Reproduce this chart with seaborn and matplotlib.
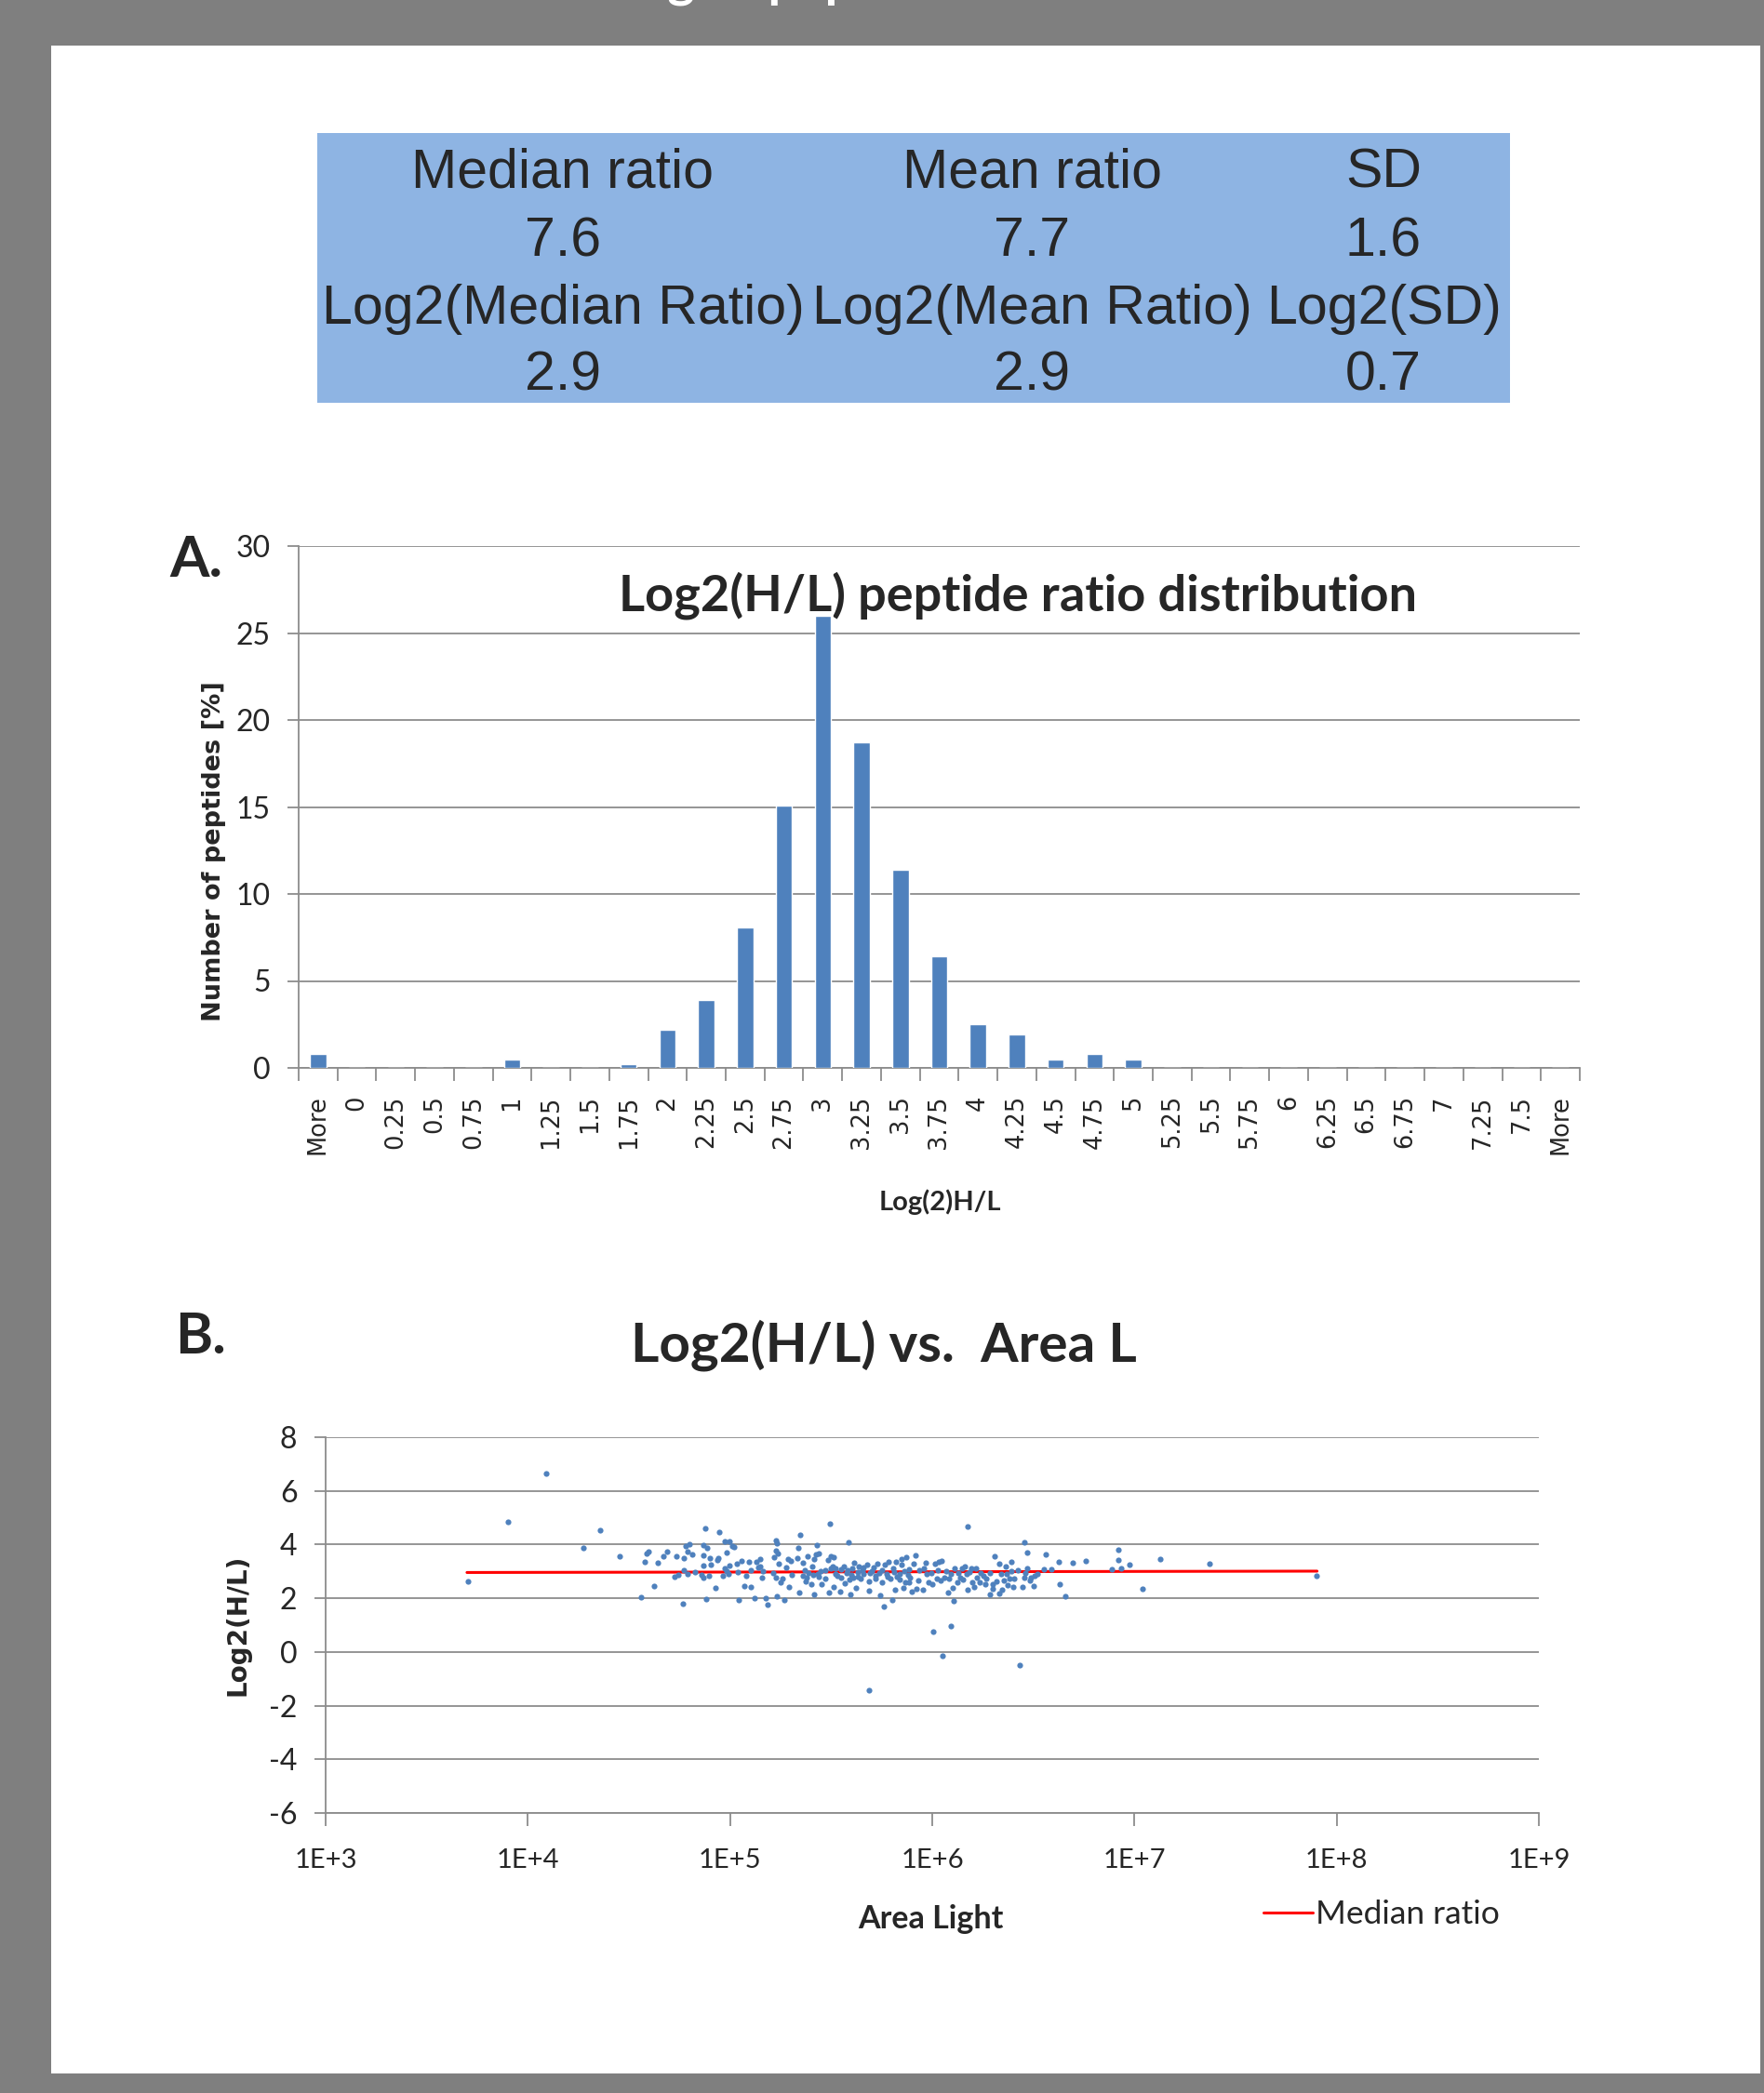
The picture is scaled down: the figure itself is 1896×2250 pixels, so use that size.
import numpy as np
import pandas as pd
import seaborn as sns
import matplotlib.pyplot as plt
from matplotlib.patches import Rectangle
from matplotlib.ticker import NullLocator

# Step 1: Data

# summary table
table_rows = [
    ["Median ratio", "Mean ratio", "SD"],
    ["7.6", "7.7", "1.6"],
    ["Log2(Median Ratio)", "Log2(Mean Ratio)", "Log2(SD)"],
    ["2.9", "2.9", "0.7"],
]

# A. histogram of log2(H/L)
bin_labels = ["More", "0", "0.25", "0.5", "0.75", "1", "1.25", "1.5", "1.75",
              "2", "2.25", "2.5", "2.75", "3", "3.25", "3.5", "3.75", "4",
              "4.25", "4.5", "4.75", "5", "5.25", "5.5", "5.75", "6", "6.25",
              "6.5", "6.75", "7", "7.25", "7.5", "More"]
pct_peptides = [0.8, 0, 0, 0, 0, 0.5, 0, 0, 0.2,
                2.2, 3.9, 8.1, 15.1, 26.0, 18.7, 11.4, 6.4, 2.5,
                1.9, 0.5, 0.8, 0.5, 0, 0, 0, 0, 0,
                0, 0, 0, 0, 0, 0]

# B. scatter: log10(area light) and log2(H/L)
log_area = [
    3.703, 3.900, 4.089, 4.275, 4.358, 4.456, 4.561, 4.577, 4.588, 4.598,
    4.623, 4.643, 4.671, 4.690, 4.724, 4.736, 4.746, 4.769, 4.772, 4.773,
    4.781, 4.789, 4.792, 4.801, 4.812, 4.825, 4.867, 4.867, 4.868, 4.859,
    4.868, 4.878, 4.884, 4.888, 4.896, 4.902, 4.907, 4.927, 4.936, 4.942,
    4.945, 4.965, 4.974, 4.974, 4.985, 4.985, 4.991, 4.999, 4.999, 5.013,
    5.019, 5.040, 5.041, 5.035, 5.058, 5.071, 5.080, 5.094, 5.101, 5.101,
    5.120, 5.129, 5.138, 5.150, 5.150, 5.160, 5.163, 5.178, 5.187, 5.213,
    5.216, 5.225, 5.225, 5.232, 5.236, 5.243, 5.229, 5.233, 5.251, 5.261,
    5.267, 5.278, 5.285, 5.290, 5.301, 5.304, 5.331, 5.336, 5.345, 5.341,
    5.359, 5.362, 5.370, 5.374, 5.385, 5.390, 5.401, 5.405, 5.414, 5.417,
    5.426, 5.428, 5.439, 5.433, 5.446, 5.454, 5.469, 5.485, 5.493, 5.489,
    5.497, 5.500, 5.508, 5.512, 5.513, 5.523, 5.531, 5.546, 5.549, 5.562,
    5.569, 5.577, 5.586, 5.592, 5.597, 5.605, 5.608, 5.615, 5.623, 5.631,
    5.638, 5.646, 5.654, 5.661, 5.677, 5.685, 5.688, 5.700, 5.712, 5.719,
    5.728, 5.738, 5.741, 5.753, 5.760, 5.764, 5.773, 5.784, 5.792, 5.804,
    5.807, 5.815, 5.822, 5.826, 5.838, 5.846, 5.850, 5.856, 5.866, 5.869,
    5.881, 5.887,
    5.380, 5.410, 5.440, 5.470, 5.520, 5.550, 5.580, 5.600, 5.630, 5.660,
    5.690, 5.720, 5.750, 5.780, 5.810, 5.840, 5.860, 5.890,
    5.919, 5.907, 5.884, 5.899, 5.922, 5.930, 5.937, 5.953, 5.957, 5.968,
    5.972, 5.983, 5.994, 6.000, 6.003, 6.012, 6.021, 6.029, 6.033, 6.044,
    6.040, 6.052, 6.060, 6.067, 6.078, 6.083, 6.091, 6.093, 6.103, 6.106,
    6.111, 6.122, 6.129, 6.137, 6.145, 6.152, 6.160, 6.168, 6.175, 6.175,
    6.183, 6.194, 6.198, 6.206, 6.217, 6.221, 6.234, 6.240, 6.252, 6.260,
    6.267, 6.283, 6.287, 6.298, 6.301, 6.307, 6.318, 6.329, 6.333, 6.341,
    6.344, 6.352, 6.364, 6.367, 6.372, 6.383, 6.390, 6.393, 6.401, 6.406,
    6.425, 6.448, 6.455, 6.456, 6.461, 6.468, 6.471, 6.482, 6.490, 6.502,
    6.505, 6.520, 6.551, 6.560, 6.587, 6.625, 6.629, 6.657, 6.694, 6.761,
    6.887, 6.922, 6.919, 6.935, 6.976, 7.039, 7.127, 7.369,
    5.686, 6.433, 7.900,
]
log2_ratio = [
    2.62, 4.86, 6.65, 3.86, 4.53, 3.56, 2.05, 3.35, 3.66, 3.73,
    2.44, 3.31, 3.56, 3.74, 2.80, 3.58, 2.88, 1.79, 3.51, 3.03,
    3.94, 2.91, 3.73, 4.02, 3.63, 2.99, 3.97, 3.60, 3.22, 2.87,
    2.76, 4.60, 1.97, 3.86, 2.85, 3.49, 3.26, 2.38, 3.44, 3.50,
    4.45, 2.84, 4.12, 3.12, 3.70, 3.00, 2.92, 4.13, 3.23, 3.95,
    3.90, 2.98, 1.93, 3.29, 3.40, 2.47, 2.83, 3.34, 2.42, 3.06,
    1.99, 3.34, 3.16, 3.47, 3.20, 2.77, 3.01, 2.02, 1.76, 2.95,
    3.53, 4.14, 3.78, 4.05, 3.66, 3.29, 2.76, 2.07, 2.60, 2.74,
    1.93, 3.14, 3.45, 2.43, 3.39, 2.86, 3.49, 3.86, 4.35, 2.23,
    3.32, 2.83, 3.06, 2.62, 3.56, 2.95, 2.54, 3.20, 3.47, 2.14,
    3.62, 3.99, 3.66, 2.92, 3.01, 2.53, 2.74, 3.43, 4.76, 2.20,
    3.58, 3.10, 3.20, 2.43, 3.53, 3.12, 2.83, 2.25, 3.09, 3.20,
    2.57, 2.95, 4.07, 2.69, 2.14, 3.12, 2.77, 3.32, 2.37, 2.97,
    3.18, 2.72, 3.06, 2.89, 3.24, 2.28, 2.62, 3.01, 3.16, 2.72,
    3.29, 2.95, 2.12, 2.60, 1.71, 3.24, 2.89, 3.35, 2.72, 1.93,
    3.12, 2.31, 3.35, 2.81, 2.92, 3.24, 3.47, 2.37, 2.60, 3.53,
    2.86, 3.09,
    2.78, 2.88, 2.80, 3.05, 2.90, 2.78, 3.05, 2.86, 2.80, 3.15,
    2.95, 2.85, 3.05, 2.80, 2.98, 2.70, 3.02, 2.78,
    3.60, 3.29, 2.60, 2.25, 2.35, 2.66, 3.06, 2.30, 3.12, 3.32,
    2.89, 2.60, 2.95, 2.54, 0.76, 3.29, 2.74, 3.06, 3.35, 3.39,
    2.66, -0.14, 2.77, 3.01, 2.23, 2.72, 2.89, 0.96, 2.40, 1.91,
    3.12, 2.60, 2.95, 2.77, 3.12, 2.69, 3.20, 2.89, 4.68, 2.31,
    2.97, 3.12, 2.60, 2.43, 3.12, 2.77, 2.60, 2.95, 2.83, 2.54,
    2.72, 2.16, 2.95, 2.54, 2.35, 3.55, 2.62, 2.18, 3.27, 2.89,
    2.31, 2.66, 3.18, 2.89, 2.49, 2.72, 3.01, 3.34, 2.43, 2.72,
    3.06, 2.43, 2.77, 4.08, 2.95, 3.69, 3.11, 2.66, 2.77, 2.46,
    2.83, 2.92, 3.09, 3.63, 3.09, 3.35, 2.54, 2.07, 3.32, 3.38,
    3.07, 3.79, 3.42, 3.12, 3.26, 2.34, 3.47, 3.30,
    -1.44, -0.50, 2.84,
]

# median ratio line end points
median_area = [5.0e3, 8.0e7]
median_log2 = [2.96, 3.01]

x_ticks_b = [1e3, 1e4, 1e5, 1e6, 1e7, 1e8, 1e9]
x_ticklabels_b = ["1E+3", "1E+4", "1E+5", "1E+6", "1E+7", "1E+8", "1E+9"]

# Step 2: Style
sns.set_style("white")
plt.rcParams['font.family'] = ['Lato', 'DejaVu Sans']
plt.rcParams['axes.unicode_minus'] = False

W, H = 1896, 2250
fig = plt.figure(figsize=(W / 100, H / 100), dpi=100)
fig.patch.set_facecolor('#7F7F7F')


def fx(px):
    return px / W


def fy(py):
    return 1 - py / H


bar_color = '#4F81BD'
grid_color = '#8C8C8C'

# white page
fig.add_artist(Rectangle((fx(55), fy(2229)), fx(1892) - fx(55), fy(49) - fy(2229),
                         transform=fig.transFigure, facecolor='white',
                         edgecolor='none', zorder=0))

# slide title, cut off at the top edge
fig.text(fx(540), fy(-3), "Labeling of peptides", color='white',
         fontsize=40, fontweight='bold', va='baseline', ha='left')

# Step 3: Summary table
fig.add_artist(Rectangle((fx(341), fy(433)), fx(1623) - fx(341), fy(143) - fy(433),
                         transform=fig.transFigure, facecolor='#8EB4E3',
                         edgecolor='none', zorder=1))
col_x = [605, 1109, 1487]
row_base = [202, 275, 348, 420]
for r, row in enumerate(table_rows):
    for c, txt in enumerate(row):
        fig.text(fx(col_x[c]), fy(row_base[r]), txt, ha='center', va='baseline',
                 fontsize=42.5, family='Liberation Sans', zorder=2)

# Step 4: Histogram (A)
hist_df = pd.DataFrame({'pos': np.arange(len(bin_labels)), 'pct': pct_peptides})

ax1 = fig.add_axes([fx(321), fy(1148), fx(1698) - fx(321), fy(587) - fy(1148)])
sns.barplot(data=hist_df, x='pos', y='pct', color=bar_color, saturation=1,
            width=0.42, native_scale=True, ax=ax1, zorder=3)
ax1.set_xlim(-0.5, len(bin_labels) - 0.5)
ax1.set_ylim(0, 30)
ax1.set_yticks(range(0, 31, 5))
ax1.set_xticks(np.arange(len(bin_labels)))
ax1.set_xticklabels(bin_labels, rotation=90, family='DejaVu Sans', fontsize=18.5,
                    va='top')
ax1.xaxis.set_minor_locator(plt.FixedLocator(np.arange(-0.5, len(bin_labels), 1)))
ax1.tick_params(axis='x', which='major', length=0, pad=21)
ax1.tick_params(axis='x', which='minor', length=10, width=1.3, color=grid_color,
                direction='out', bottom=True)
ax1.tick_params(axis='y', length=9, width=1.3, color=grid_color, labelsize=23,
                pad=13, left=True)
ax1.yaxis.grid(True, color=grid_color, lw=1.3)
ax1.set_axisbelow(True)
ax1.set_xlabel("")
ax1.set_ylabel("")
for side in ['top', 'right']:
    ax1.spines[side].set_visible(False)
for side in ['left', 'bottom']:
    ax1.spines[side].set_color(grid_color)
    ax1.spines[side].set_linewidth(1.3)

fig.text(fx(182), fy(620), "A.", fontsize=44, fontweight='bold', va='baseline')
fig.text(fx(1094), fy(656), "Log2(H/L) peptide ratio distribution", fontsize=39,
         fontweight='bold', ha='center', va='baseline')
fig.text(fx(230), fy(915), "Number of peptides [%]", rotation=90, fontsize=19.5,
         fontweight='bold', family='DejaVu Sans', ha='center', va='center')
fig.text(fx(1010), fy(1292), "Log(2)H/L", fontsize=21, fontweight='bold',
         ha='center', va='center')

# Step 5: Scatter (B)
scatter_df = pd.DataFrame({'area': 10 ** np.array(log_area), 'log2': log2_ratio})

ax2 = fig.add_axes([fx(350), fy(1949), fx(1654) - fx(350), fy(1545) - fy(1949)])
sns.scatterplot(data=scatter_df, x='area', y='log2', color=bar_color, s=20,
                linewidth=0, ax=ax2, zorder=3)
sns.lineplot(x=median_area, y=median_log2, color='red', lw=2.2, ax=ax2,
             label='Median ratio', zorder=2)
ax2.set_xscale('log')
ax2.set_xlim(1e3, 1e9)
ax2.set_ylim(-6, 8)
ax2.set_xticks(x_ticks_b)
ax2.set_xticklabels(x_ticklabels_b)
ax2.xaxis.set_minor_locator(NullLocator())
ax2.set_yticks(range(-6, 9, 2))
ax2.tick_params(axis='x', length=10, width=1.3, color=grid_color, labelsize=21,
                pad=17, bottom=True)
ax2.tick_params(axis='y', length=9, width=1.3, color=grid_color, labelsize=23,
                pad=13, left=True)
ax2.yaxis.grid(True, color=grid_color, lw=1.3)
ax2.set_axisbelow(True)
ax2.set_xlabel("")
ax2.set_ylabel("")
for side in ['top', 'right']:
    ax2.spines[side].set_visible(False)
for side in ['left', 'bottom']:
    ax2.spines[side].set_color(grid_color)
    ax2.spines[side].set_linewidth(1.3)

ax2.legend(loc='center left', bbox_to_anchor=(fx(1340), fy(2058)),
           bbox_transform=fig.transFigure, frameon=False, fontsize=25.5,
           handlelength=1.5, handletextpad=0.1, borderpad=0)

fig.text(fx(188), fy(1455), "B.", fontsize=44, fontweight='bold', va='baseline')
fig.text(fx(950), fy(1464), "Log2(H/L) vs.  Area L", fontsize=42,
         fontweight='bold', ha='center', va='baseline')
fig.text(fx(255), fy(1747), "Log2(H/L)", rotation=90, fontsize=20,
         fontweight='bold', family='DejaVu Sans', ha='center', va='center')
fig.text(fx(1000), fy(2063), "Area Light", fontsize=24.5, fontweight='bold',
         ha='center', va='center')

fig.savefig('out.png', dpi=100, facecolor=fig.get_facecolor())
